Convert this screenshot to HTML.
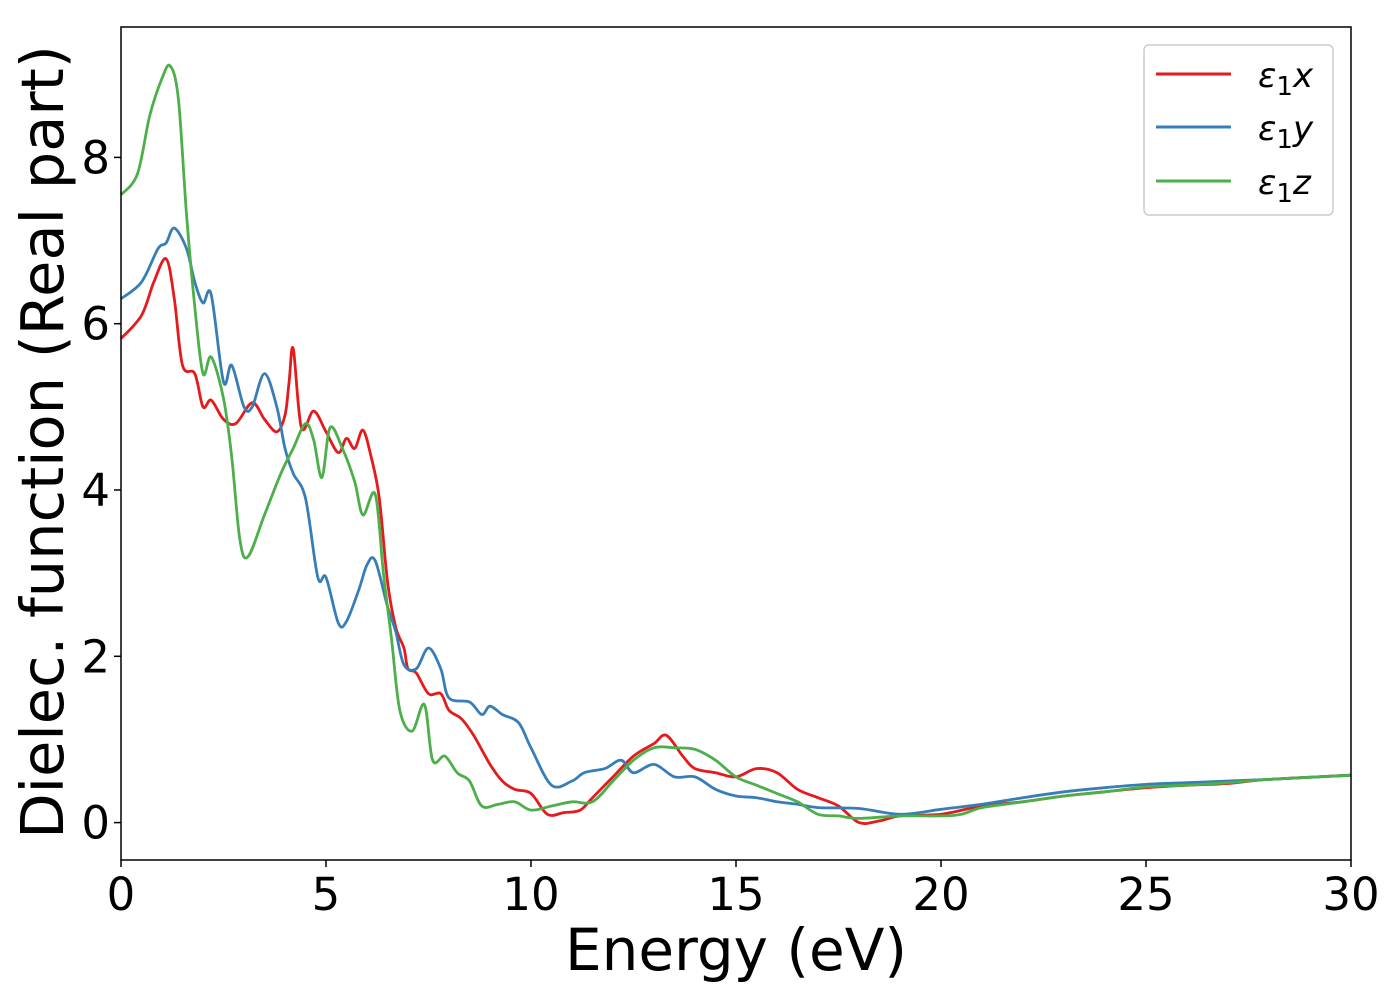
<!DOCTYPE html>
<html><head><meta charset="utf-8"><style>
body{margin:0;background:#fff}
svg{display:block;font-family:"DejaVu Sans","Liberation Sans",sans-serif}
</style></head><body>
<svg id="chart" width="1400" height="1000" viewBox="0 0 1400 1000" xmlns="http://www.w3.org/2000/svg">
<rect width="1400" height="1000" fill="#fff"/>
<g id="plot"></g>
<rect x="121" y="27" width="1230" height="833" fill="none" stroke="#000" stroke-width="1.5"/>
<g id="axes"></g>
<text x="736" y="970" font-size="58" text-anchor="middle">Energy (eV)</text>
<text transform="translate(63,442) rotate(-90)" font-size="59" text-anchor="middle">Dielec. function (Real part)</text>
<g>
<rect x="1144" y="45" width="189" height="170" rx="5" fill="#fff" stroke="#ccc" stroke-width="1.5"/>
<line x1="1156" y1="74" x2="1231" y2="74" stroke="#e41a1c" stroke-width="3"/>
<line x1="1156" y1="127" x2="1231" y2="127" stroke="#377eb8" stroke-width="3"/>
<line x1="1156" y1="181" x2="1231" y2="181" stroke="#4daf4a" stroke-width="3"/>
<text x="1258" y="87" font-size="34" font-style="italic">ε<tspan font-style="normal" font-size="26" dy="8">1</tspan><tspan dy="-8">x</tspan></text>
<text x="1258" y="140" font-size="34" font-style="italic">ε<tspan font-style="normal" font-size="26" dy="8">1</tspan><tspan dy="-8">y</tspan></text>
<text x="1258" y="194" font-size="34" font-style="italic">ε<tspan font-style="normal" font-size="26" dy="8">1</tspan><tspan dy="-8">z</tspan></text>
</g>
</svg>
<script>
const xTicks=[0,5,10,15,20,25,30];
const yTicks=[0,2,4,6,8];
const exE=[0,0.5,0.8,1.1,1.3,1.5,1.8,2.0,2.2,2.5,2.8,3.2,3.5,3.8,4.0,4.1,4.2,4.4,4.7,5.0,5.3,5.5,5.7,5.9,6.1,6.3,6.5,6.7,6.9,7.0,7.2,7.5,7.8,8.0,8.3,8.6,9.0,9.3,9.6,10.0,10.4,10.8,11.2,11.5,12.0,12.5,13.0,13.3,13.7,14.0,14.5,15.0,15.5,16.0,16.5,17.0,17.5,18.0,18.5,19.0,20,21,22,23,24,25,26,27,28,30];
const exV=[5.82,6.1,6.5,6.78,6.3,5.5,5.4,5.0,5.08,4.85,4.8,5.05,4.85,4.7,4.9,5.3,5.7,4.75,4.95,4.7,4.45,4.62,4.5,4.72,4.4,3.9,2.9,2.35,2.1,1.85,1.8,1.55,1.55,1.35,1.25,1.05,0.7,0.5,0.4,0.35,0.1,0.12,0.15,0.3,0.55,0.8,0.95,1.05,0.8,0.65,0.6,0.55,0.65,0.6,0.4,0.3,0.2,0.0,0.02,0.08,0.1,0.2,0.25,0.32,0.37,0.42,0.45,0.47,0.52,0.57];
const eyE=[0,0.5,0.9,1.1,1.3,1.6,1.8,2.0,2.2,2.5,2.7,3.0,3.2,3.5,3.8,4.0,4.2,4.5,4.8,5.0,5.3,5.5,5.8,6.0,6.2,6.5,6.7,6.9,7.2,7.5,7.8,8.0,8.5,8.8,9.0,9.3,9.7,10.0,10.5,11.0,11.3,11.8,12.2,12.5,13.0,13.5,14.0,14.5,15.0,15.5,16.0,16.5,17.0,18,19,20,21,22,23,24,25,26,27,28,30];
const eyV=[6.3,6.5,6.9,6.97,7.15,6.9,6.5,6.25,6.35,5.3,5.5,5.0,5.0,5.4,5.0,4.5,4.2,3.9,2.95,2.95,2.4,2.42,2.8,3.1,3.15,2.6,2.3,1.9,1.85,2.1,1.85,1.5,1.45,1.3,1.4,1.3,1.2,0.9,0.45,0.5,0.6,0.65,0.75,0.6,0.7,0.55,0.55,0.4,0.32,0.3,0.25,0.22,0.18,0.17,0.1,0.16,0.22,0.3,0.37,0.42,0.46,0.48,0.5,0.52,0.57];
const ezE=[0,0.4,0.7,1.0,1.2,1.4,1.6,1.8,2.0,2.2,2.5,2.7,2.9,3.1,3.5,3.9,4.2,4.5,4.7,4.9,5.1,5.4,5.7,5.9,6.2,6.4,6.6,6.8,7.1,7.4,7.6,7.9,8.2,8.5,8.8,9.2,9.6,10.0,10.5,11.0,11.5,12.0,12.5,13.0,13.5,14.0,14.5,15.0,15.5,16.0,16.5,17.0,17.5,18,19,20,20.5,21,22,23,24,25,26,27,28,30];
const ezV=[7.55,7.8,8.5,8.95,9.1,8.7,7.3,6.2,5.4,5.6,5.1,4.4,3.4,3.2,3.7,4.2,4.5,4.8,4.6,4.15,4.75,4.5,4.1,3.7,3.95,3.0,2.2,1.35,1.1,1.42,0.75,0.8,0.6,0.5,0.2,0.22,0.25,0.15,0.2,0.25,0.25,0.5,0.75,0.9,0.9,0.88,0.75,0.55,0.45,0.35,0.25,0.1,0.08,0.05,0.08,0.08,0.1,0.18,0.25,0.32,0.37,0.43,0.45,0.48,0.52,0.57];
const NS="http://www.w3.org/2000/svg";
const X=e=>121+e*41, Y=v=>822.6-v*83.15;
function path(xs,ys){
 const p=xs.map((e,i)=>[X(e),Y(ys[i])]);
 let d="M"+p[0][0]+","+p[0][1];
 for(let i=0;i<p.length-1;i++){
  const p0=p[i-1]||p[i],p1=p[i],p2=p[i+1],p3=p[i+2]||p2;
  const c1=[p1[0]+(p2[0]-p0[0])/6,p1[1]+(p2[1]-p0[1])/6];
  const c2=[p2[0]-(p3[0]-p1[0])/6,p2[1]-(p3[1]-p1[1])/6];
  d+=`C${c1[0].toFixed(1)},${c1[1].toFixed(1)} ${c2[0].toFixed(1)},${c2[1].toFixed(1)} ${p2[0].toFixed(1)},${p2[1].toFixed(1)}`;
 }
 return d;
}
const plot=document.getElementById('plot');
[[exE,exV,'#e41a1c','series-eps1-x'],[eyE,eyV,'#377eb8','series-eps1-y'],[ezE,ezV,'#4daf4a','series-eps1-z']].forEach(s=>{
 const el=document.createElementNS(NS,'path');
 el.setAttribute('d',path(s[0],s[1]));
 el.setAttribute('fill','none');el.setAttribute('stroke',s[2]);el.setAttribute('stroke-width','2.8');
 
 
 plot.appendChild(el);
});
const axes=document.getElementById('axes');
xTicks.forEach(t=>{
 const l=document.createElementNS(NS,'line');
 l.setAttribute('x1',X(t));l.setAttribute('x2',X(t));l.setAttribute('y1',860);l.setAttribute('y2',867);l.setAttribute('stroke','#000');l.setAttribute('stroke-width','1.5');
 
 
 axes.appendChild(l);
 const tx=document.createElementNS(NS,'text');
 tx.setAttribute('x',X(t));tx.setAttribute('y',910);tx.setAttribute('font-size','45');tx.setAttribute('text-anchor','middle');
 tx.textContent=t;
 
 
 axes.appendChild(tx);
});
yTicks.forEach(t=>{
 const l=document.createElementNS(NS,'line');
 l.setAttribute('x1',114);l.setAttribute('x2',121);l.setAttribute('y1',Y(t));l.setAttribute('y2',Y(t));l.setAttribute('stroke','#000');l.setAttribute('stroke-width','1.5');
 
 
 axes.appendChild(l);
 const tx=document.createElementNS(NS,'text');
 tx.setAttribute('x',110);tx.setAttribute('y',Y(t)+16);tx.setAttribute('font-size','45');tx.setAttribute('text-anchor','end');
 tx.textContent=t;
 
 
 axes.appendChild(tx);
});
</script>
</body></html>
